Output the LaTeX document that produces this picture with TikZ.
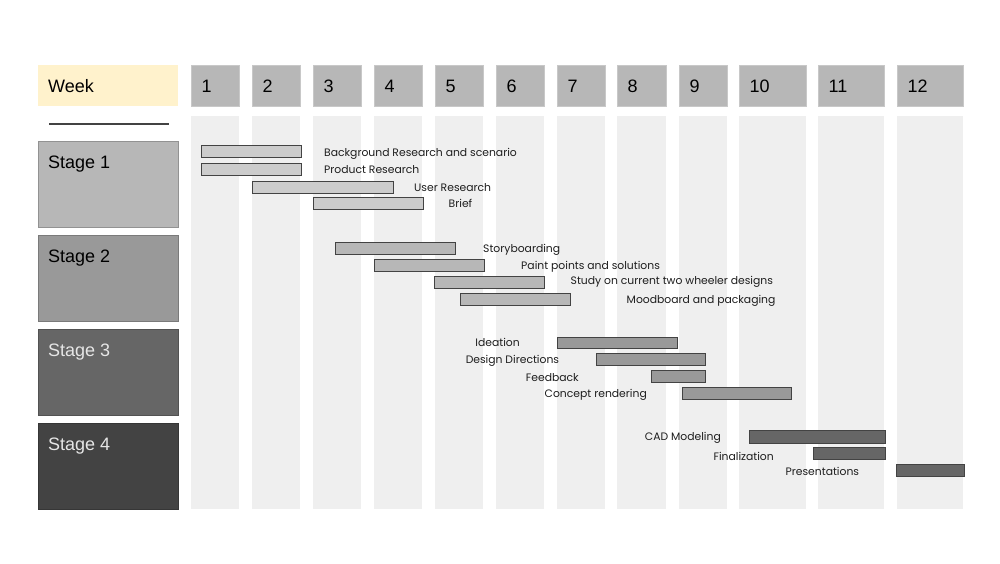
\documentclass[tikz,border=0pt]{standalone}
\usepackage{fontspec}
\setmainfont{Liberation Sans}
\newfontfamily\lblfont{Poppins}
\definecolor{colbg}{HTML}{EFEFEF}
\definecolor{hdrgray}{HTML}{B7B7B7}
\definecolor{hdrline}{HTML}{C8C8C8}
\definecolor{weekbg}{HTML}{FFF2CC}
\definecolor{stA}{HTML}{B7B7B7}
\definecolor{stB}{HTML}{999999}
\definecolor{stC}{HTML}{666666}
\definecolor{stD}{HTML}{434343}
\definecolor{barA}{HTML}{CCCCCC}
\definecolor{barB}{HTML}{B7B7B7}
\definecolor{barC}{HTML}{999999}
\definecolor{barD}{HTML}{666666}
\definecolor{barline}{HTML}{434343}
\definecolor{lighttxt}{HTML}{E6E6E6}
\definecolor{lbltxt}{HTML}{1E1E1E}
\begin{document}
\begin{tikzpicture}[x=1pt,y=-1pt,
  box/.style={anchor=north west, inner sep=0pt, outer sep=0pt},
  colbox/.style={box, fill=colbg},
  hdrbox/.style={box, fill=hdrgray, draw=hdrline, line width=0.5pt, minimum height=41pt},
  bigtxt/.style={anchor=base west, inner sep=0pt, font=\fontsize{18}{20}\selectfont},
  stagebox/.style={box, draw=#1!80!black, line width=0.5pt, fill=#1, minimum width=140pt, minimum height=86pt},
  bar/.style={box, draw=barline, line width=0.9pt, fill=#1, minimum height=12pt},
  lbl/.style={inner sep=0pt, text=lbltxt, font=\lblfont\fontsize{10.8}{12}\selectfont},
  lblL/.style={lbl, anchor=base west},
  lblR/.style={lbl, anchor=base east}
]
\useasboundingbox (0,0) rectangle (1000,563);
\fill[white] (0,0) rectangle (1000,563);

% week columns and headers
\foreach \i/\a/\b in {1/191/239, 2/252/300, 3/313/361, 4/374/422, 5/435/483, 6/496/544, 7/557/605, 8/617/666, 9/679/727, 10/739/806, 11/818/884, 12/897/963} {
  \pgfmathsetmacro\w{\b-\a}
  \node[colbox, minimum width=\w pt, minimum height=393pt] (c\i) at (\a,116) {};
  \node[hdrbox, minimum width=\w pt] (h\i) at (\a,65) {};
  \node[bigtxt] (t\i) at ({\a+10.5},92) {\i};
}

% week label
\node[box, fill=weekbg, minimum width=140pt, minimum height=41pt] (week) at (38,65) {};
\node[bigtxt] (weektxt) at (48,92) {Week};

% separator line
\coordinate (sepL) at (49,124);
\coordinate (sepR) at (169,124);
\draw[barline, line width=1.1pt] (sepL) -- (sepR);

% stage boxes
\node[stagebox=stA] (s1) at (38,141) {};
\node[stagebox=stB] (s2) at (38,235) {};
\node[stagebox=stC] (s3) at (38,329) {};
\node[stagebox=stD] (s4) at (38,423) {};
\node[bigtxt] (s1t) at (48,168) {Stage 1};
\node[bigtxt] (s2t) at (48,262) {Stage 2};
\node[bigtxt, text=lighttxt] (s3t) at (48,356) {Stage 3};
\node[bigtxt, text=lighttxt] (s4t) at (48,450) {Stage 4};

% stage 1 tasks
\node[bar=barA, minimum width=100pt] (b1) at (201,145) {};
\node[lblL] (l1) at (324,156.5) {Background Research and scenario};
\node[bar=barA, minimum width=100pt] (b2) at (201,163) {};
\node[lblL] (l2) at (324,173) {Product Research};
\node[bar=barA, minimum width=141pt] (b3) at (252,181) {};
\node[lblL] (l3) at (414,191) {User Research};
\node[bar=barA, minimum width=110pt] (b4) at (313,197) {};
\node[lblL] (l4) at (448.5,207) {Brief};

% stage 2 tasks
\node[bar=barB, minimum width=120pt] (b5) at (335,242) {};
\node[lblL] (l5) at (483,252.5) {Storyboarding};
\node[bar=barB, minimum width=110pt] (b6) at (374,259) {};
\node[lblL] (l6) at (521,269.3) {Paint points and solutions};
\node[bar=barB, minimum width=110pt] (b7) at (434,276) {};
\node[lblL] (l7) at (570.5,284.3) {Study on current two wheeler designs};
\node[bar=barB, minimum width=110pt] (b8) at (460,293) {};
\node[lblL] (l8) at (626.5,303.3) {Moodboard and packaging};

% stage 3 tasks
\node[bar=barC, minimum width=120pt, minimum height=11.5pt] (b9) at (557,337) {};
\node[lblR] (l9) at (520,346.7) {Ideation};
\node[bar=barC, minimum width=109pt] (b10) at (596,353) {};
\node[lblR] (l10) at (559.3,363.3) {Design Directions};
\node[bar=barC, minimum width=54pt] (b11) at (651,370) {};
\node[lblR] (l11) at (579,381.7) {Feedback};
\node[bar=barC, minimum width=109pt] (b12) at (682.5,387) {};
\node[lblR] (l12) at (647,397.7) {Concept rendering};

% stage 4 tasks
\node[bar=barD, minimum width=136pt, minimum height=13pt] (b13) at (749,430) {};
\node[lblR] (l13) at (721,440.7) {CAD Modeling};
\node[bar=barD, minimum width=71.5pt] (b14) at (813.5,447) {};
\node[lblR] (l14) at (774,460) {Finalization};
\node[bar=barD, minimum width=68pt, minimum height=12.5pt] (b15) at (896,464) {};
\node[lblR] (l15) at (859.3,475.7) {Presentations};
\end{tikzpicture}
\end{document}
